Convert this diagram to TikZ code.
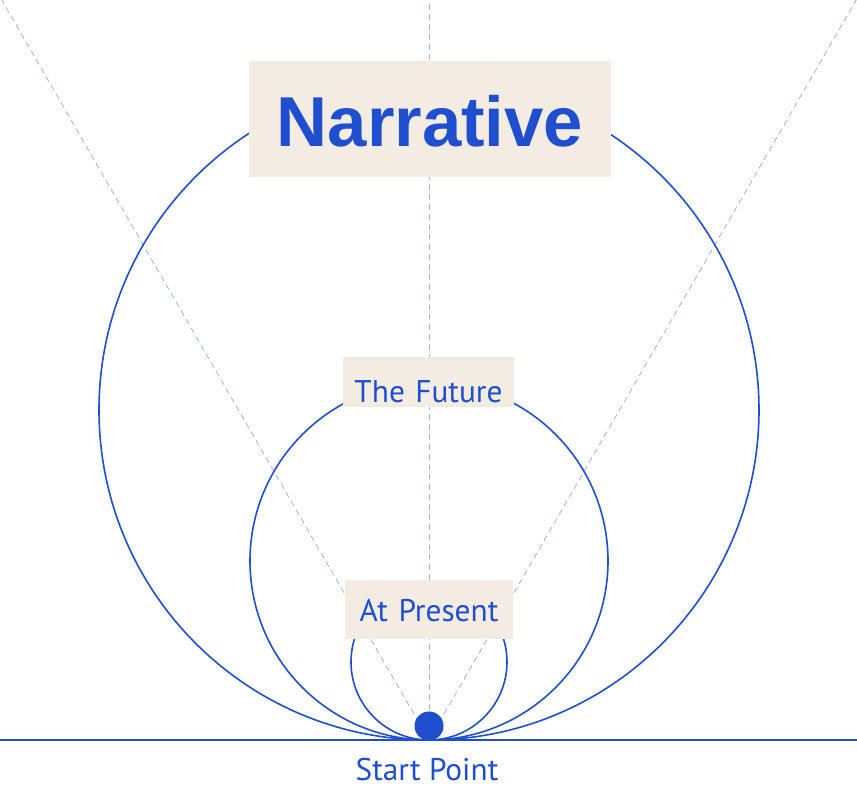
\documentclass[tikz,border=0pt]{standalone}
\usepackage{fontspec}
\setmainfont{PT Sans}
\newfontfamily\headfont{Liberation Sans}
\definecolor{ink}{HTML}{1F4FCF}
\definecolor{guide}{HTML}{A0B0F0}
\definecolor{sand}{HTML}{F3ECE2}

\begin{document}
\begin{tikzpicture}[x=0.75pt,y=0.75pt,
  guideline/.style={guide,line width=0.6pt,dash pattern=on 4.5pt off 3pt},
  orbit/.style={ink,line width=1.2pt},
  tag/.style={fill=sand,text=ink,inner sep=0pt,align=center,font=\fontsize{23.5}{26}\selectfont}]
\useasboundingbox (0,0) rectangle (857,788);
\coordinate (start) at (429,48);
\coordinate (topleft) at (1.8,788);
\coordinate (topmid) at (429.3,788);
\coordinate (topright) at (856.2,788);
\coordinate (lineL) at (0,48);
\coordinate (lineR) at (857,48);
% guides
\draw[guideline] (start) -- (topleft);
\draw[guideline] (429.3,48) -- (topmid);
\draw[guideline] (start) -- (topright);
% circles
\draw[orbit] (429,378) circle [radius=330];
\draw[orbit] (429,227) circle [radius=179];
\draw[orbit] (429,126) circle [radius=78];
\draw[ink,line width=1.5pt] (lineL) -- (lineR);
\node[circle,fill=ink,inner sep=0pt,minimum size=21.75pt] (dot) at (429,62) {};
% labels
\node[tag,font=\headfont\bfseries\fontsize{53}{60}\selectfont,text width=271.5pt,text height=64.3pt,text depth=22.7pt,anchor=base] (narrative) at (430,641.3) {Narrative};
\node[tag,text width=128.25pt,text height=34.5pt,text depth=3pt,anchor=base] (future) at (428.5,385) {The Future};
\node[tag,text width=126pt,text height=31.5pt,text depth=12.75pt,anchor=base] (present) at (429,166) {At Present};
\node[text=ink,inner sep=0pt,font=\fontsize{23.5}{26}\selectfont,anchor=base] (startlabel) at (427,7) {Start Point};
\end{tikzpicture}
\end{document}
